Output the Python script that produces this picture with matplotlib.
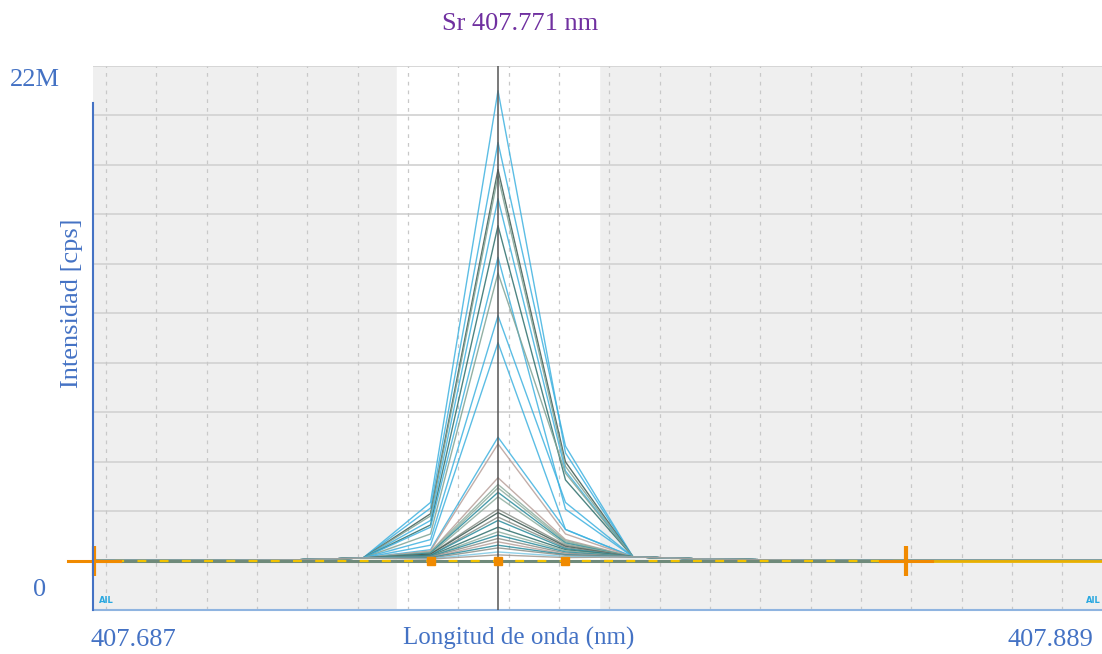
import numpy as np
import matplotlib.pyplot as plt

plt.rcParams['font.family'] = ['Liberation Serif', 'DejaVu Serif']

# Espectro de Sr 407.771 nm: puntos de medida alrededor de la línea
centro = 407.771
paso = 0.013513
k = np.arange(-6, 10)
longitudes = centro + paso * k

# Intensidades en Mcps: pico, vecino izquierdo, vecino derecho
picos_altos = [20.9, 18.6, 17.4, 17.1, 16.1, 14.9, 13.5, 12.8, 10.9, 9.7]
izq_altos = [2.6, 2.35, 2.1, 2.0, 1.8, 1.6, 1.5, 1.2, 0.95, 0.7]
der_altos = [4.8, 5.1, 4.4, 4.2, 4.0, 3.6, 2.3, 3.9, 2.6, 1.4]
col_altos = ['#3fb2e0', '#3fb2e0', '#3d5a52', '#7fa294', '#3fb2e0',
             '#2f6f6c', '#3fb2e0', '#7fa294', '#3fb2e0', '#3fb2e0']

picos_bajos = [5.5, 5.2, 3.7, 3.4, 3.25, 3.05, 2.85, 2.3, 2.15, 1.95,
               1.8, 1.5, 1.3, 1.15, 1.0, 0.85, 0.7, 0.58, 0.4, 0.27]
izq_bajos = [0.5, 0.45, 0.4, 0.4, 0.35, 0.35, 0.3, 0.3, 0.3, 0.25,
             0.25, 0.22, 0.2, 0.2, 0.18, 0.15, 0.15, 0.12, 0.1, 0.08]
der_bajos = [1.4, 1.2, 0.95, 0.9, 0.85, 0.8, 0.75, 0.7, 0.65, 0.6,
             0.55, 0.5, 0.45, 0.4, 0.35, 0.3, 0.28, 0.25, 0.2, 0.15]
col_bajos = ['#3fb2e0', '#b8a09a', '#b8a09a', '#8fae9f', '#8fae9f',
             '#2a8c9c', '#8fae9f', '#8a8f88', '#3d5a52', '#8a8f88',
             '#2a8c9c', '#2f6f6c', '#8fae9f', '#2a8c9c', '#8a8f88',
             '#b8a09a', '#2a8c9c', '#8a8f88', '#7cc8e4', '#a09890']

# Nivel de fondo lejos del pico (k = -6..9, sin los tres centrales)
fondo_izq = [0.03, 0.03, 0.03, 0.05, 0.13]
fondo_der = [0.18, 0.09, 0.05, 0.03, 0.03, 0.03, 0.03, 0.03]

# Puntos de corrección de fondo y ventana de integración
corr_fondo = [407.6902, 407.8526]
semiancho_ventana = 0.0203

COLOR_TEXTO = '#4472C4'

fig = plt.figure(figsize=(11.02, 6.54), dpi=100)
ax = fig.add_axes([93 / 1102, 44 / 654, 1 - 93 / 1102, 544 / 654])
ax.set_xlim(centro - 405 * 0.0002002, centro + 604 * 0.0002002)
ax.set_ylim(-2.18e6, 22e6)

# fondo gris con ventana blanca alrededor del pico
ax.set_facecolor('#efefef')
ax.axvspan(centro - semiancho_ventana, centro + semiancho_ventana, color='white', zorder=0)

# rejilla
for y in np.linspace(0, 22e6, 11):
    ax.axhline(y, color='#d4d4d4', lw=1.3, zorder=1)
for x in centro - 392 * 0.0002002 + 0.010076 * np.arange(20):
    ax.axvline(x, color='#c8c8c8', lw=0.9, ls=(0, (3, 4)), zorder=1)


def espectro(pico, izq, der):
    return np.array(fondo_izq + [izq, pico, der] + fondo_der) * 1e6


for p, l, r, c in zip(picos_altos, izq_altos, der_altos, col_altos):
    ax.plot(longitudes, espectro(p, l, r), color=c, lw=1.0, alpha=0.85, zorder=3)
for p, l, r, c in zip(picos_bajos, izq_bajos, der_bajos, col_bajos):
    ax.plot(longitudes, espectro(p, l, r), color=c, lw=1.0, alpha=0.85, zorder=3)

# línea central de la longitud de onda
ax.axvline(centro, color='#555555', lw=1.1, zorder=4)

# línea de fondo corregido
ax.plot([ax.get_xlim()[0], corr_fondo[1]], [0, 0], color='#6f8a7a', lw=2.2, zorder=4)
ax.plot([ax.get_xlim()[0], corr_fondo[1]], [0, 0], color='#f2c200', lw=1.6,
        ls=(0, (4, 6)), zorder=5)
ax.plot([corr_fondo[1], ax.get_xlim()[1]], [0, 0], color='#e8b000', lw=2.0, zorder=5)

# marcadores naranjas
for x in corr_fondo:
    ax.plot([x - 0.0052, x + 0.0052], [0, 0], color='#f08a00', lw=2.2, zorder=6,
            clip_on=False)
    ax.plot([x], [0], marker='|', ms=21, mew=3, color='#f08a00', zorder=6, clip_on=False)
ax.plot(longitudes[5:8], [0, 0, 0], ls='none', marker='s', ms=6, color='#f08a00', zorder=6)

# ejes
ax.set_xticks([])
ax.set_yticks([])
for s in ['top', 'right', 'left']:
    ax.spines[s].set_visible(False)
ax.spines['bottom'].set_color('#8fb4e0')
ax.spines['bottom'].set_linewidth(1.5)
ax.plot([0, 0], [0, 0.932], transform=ax.transAxes, color=COLOR_TEXTO, lw=1.5,
        clip_on=False, zorder=7)

ax.text(0.006, 0.012, 'AIL', transform=ax.transAxes, fontsize=6, fontweight='bold',
        color='#29a8e0', family='DejaVu Sans')
ax.text(0.999, 0.012, 'AIL', transform=ax.transAxes, fontsize=6, fontweight='bold',
        color='#29a8e0', family='DejaVu Sans', ha='right')

# textos
fig.text(520 / 1102, 1 - 24 / 654, 'Sr 407.771 nm', color='#7030A0', fontsize=19,
         ha='center', va='center')
fig.text(35 / 1102, 1 - 80 / 654, '22M', color=COLOR_TEXTO, fontsize=19,
         ha='center', va='center')
fig.text(40 / 1102, 1 - 590 / 654, '0', color=COLOR_TEXTO, fontsize=19,
         ha='center', va='center')
fig.text(72 / 1102, 1 - 303 / 654, 'Intensidad [cps]', color=COLOR_TEXTO, fontsize=19,
         ha='center', va='center', rotation=90)
fig.text(519 / 1102, 1 - 638 / 654, 'Longitud de onda (nm)', color=COLOR_TEXTO,
         fontsize=18, ha='center', va='center')
fig.text(133 / 1102, 1 - 640 / 654, '407.687', color=COLOR_TEXTO, fontsize=19,
         ha='center', va='center')
fig.text(1050 / 1102, 1 - 640 / 654, '407.889', color=COLOR_TEXTO, fontsize=19,
         ha='center', va='center')

fig.savefig('out.png', dpi=100)
